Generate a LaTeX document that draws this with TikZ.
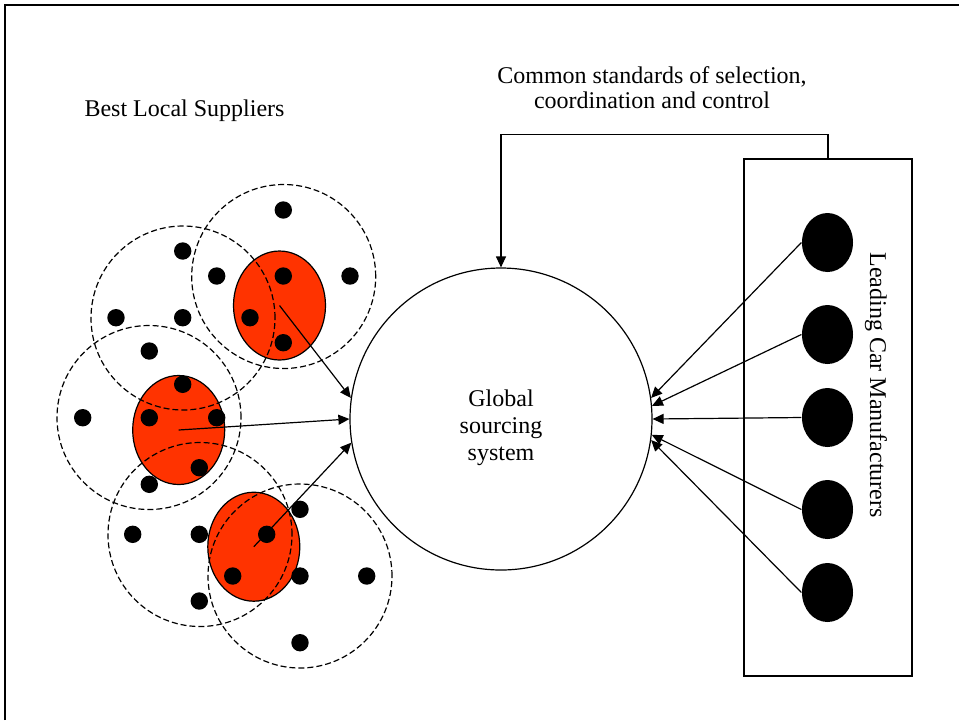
\documentclass[tikz,border=0pt]{standalone}
\usepackage{fontspec}
\setmainfont{Liberation Serif}
\usetikzlibrary{shapes.geometric,arrows.meta}
\definecolor{hubred}{RGB}{255,51,0}

\begin{document}
\begin{tikzpicture}[x=0.5pt,y=-0.5pt,line width=0.6pt,
   txt/.style={font=\fontsize{12}{13.5}\selectfont,align=center,inner sep=0},
   zone/.style={circle,draw,dashed,dash pattern=on 3pt off 1.5pt,minimum size=92pt,inner sep=0},
   hub/.style={ellipse,draw,fill=hubred,minimum width=46pt,minimum height=54.5pt,inner sep=0},
   supplier/.style={circle,fill=black,minimum size=8.7pt,inner sep=0},
   maker/.style={ellipse,fill=black,minimum width=25.5pt,minimum height=29.5pt,inner sep=0},
   flow/.style={-{Triangle[length=5.5pt,width=5pt]}}]
   \useasboundingbox (0,0) rectangle (959,720);
   \draw[line width=0.8pt] (5,720) -- (5,5) -- (959,5);
   \node (hub1) at (279.5,305.5) [hub] {};
   \node (hub2) at (178.7,430) [hub] {};
   \node (hub3) at (253.8,546.7) [hub] {};
   \node (zone1) at (283.7,276.5) [zone] {};
   \node (zone2) at (183,318) [zone] {};
   \node (zone3) at (149,417.5) [zone] {};
   \node (zone4) at (200,534.5) [zone] {};
   \node (zone5) at (300,576) [zone] {};
   \node (s1) at (283.3,210) [supplier] {};
   \node (s2) at (182.7,251) [supplier] {};
   \node (s3) at (216.7,276) [supplier] {};
   \node (s4) at (283.3,276) [supplier] {};
   \node (s5) at (350,276) [supplier] {};
   \node (s6) at (116,317.7) [supplier] {};
   \node (s7) at (182.7,317.7) [supplier] {};
   \node (s8) at (250,317.7) [supplier] {};
   \node (s9) at (283.3,342.7) [supplier] {};
   \node (s10) at (149.3,351) [supplier] {};
   \node (s11) at (182.7,384.3) [supplier] {};
   \node (s12) at (82.7,417.7) [supplier] {};
   \node (s13) at (149.3,417.7) [supplier] {};
   \node (s14) at (216.7,417.7) [supplier] {};
   \node (s15) at (199.3,467.7) [supplier] {};
   \node (s16) at (149.3,484.3) [supplier] {};
   \node (s17) at (300,509.3) [supplier] {};
   \node (s18) at (132.7,534.3) [supplier] {};
   \node (s19) at (199.3,534.3) [supplier] {};
   \node (s20) at (266.7,534.3) [supplier] {};
   \node (s21) at (232.7,576) [supplier] {};
   \node (s22) at (300,576) [supplier] {};
   \node (s23) at (366.7,576) [supplier] {};
   \node (s24) at (199.3,601) [supplier] {};
   \node (s25) at (300,642.7) [supplier] {};
   \node (gss) at (501,419) [circle,draw,minimum size=151pt,inner sep=0] {};
   \node (gsstext) at (501,460) [txt,anchor=base] {Global\\sourcing\\system};
   \node (oem) at (828,417.5) [draw,minimum width=84pt,minimum height=258.5pt,inner sep=0] {};
   \node (maker1) at (827.5,242.5) [maker] {};
   \node (maker2) at (827.5,334.5) [maker] {};
   \node (maker3) at (827.5,417.5) [maker] {};
   \node (maker4) at (827.5,509.5) [maker] {};
   \node (maker5) at (827.5,592.5) [maker] {};
   \node (oemtext) at (870,385) [txt,anchor=base,rotate=-90] {Leading Car Manufacturers};
   \node (supptext) at (184.5,116.7) [txt,anchor=base] {Best Local Suppliers};
   \node (stdtext) at (652,108.3) [txt,font=\fontsize{12}{12.5}\selectfont,anchor=base] {Common standards of selection,\\coordination and control};
   \draw[flow] (hub1.center) -- (gss.172.7);
   \draw[flow] (hub2.center) -- (gss.180);
   \draw[flow] (hub3.center) -- (gss.189.3);
   \draw[flow] (maker1.west) -- (gss.8.5);
   \draw[flow] (maker2.west) -- (gss.5.7);
   \draw[flow] (maker3.west) -- (gss.0.6);
   \draw[flow] (maker4.west) -- (gss.-6.1);
   \draw[flow] (maker5.west) -- (gss.-8);
   \draw[flow] (oem.north) -- ++(0,-24) -| (gss.north);
\end{tikzpicture}
\end{document}
